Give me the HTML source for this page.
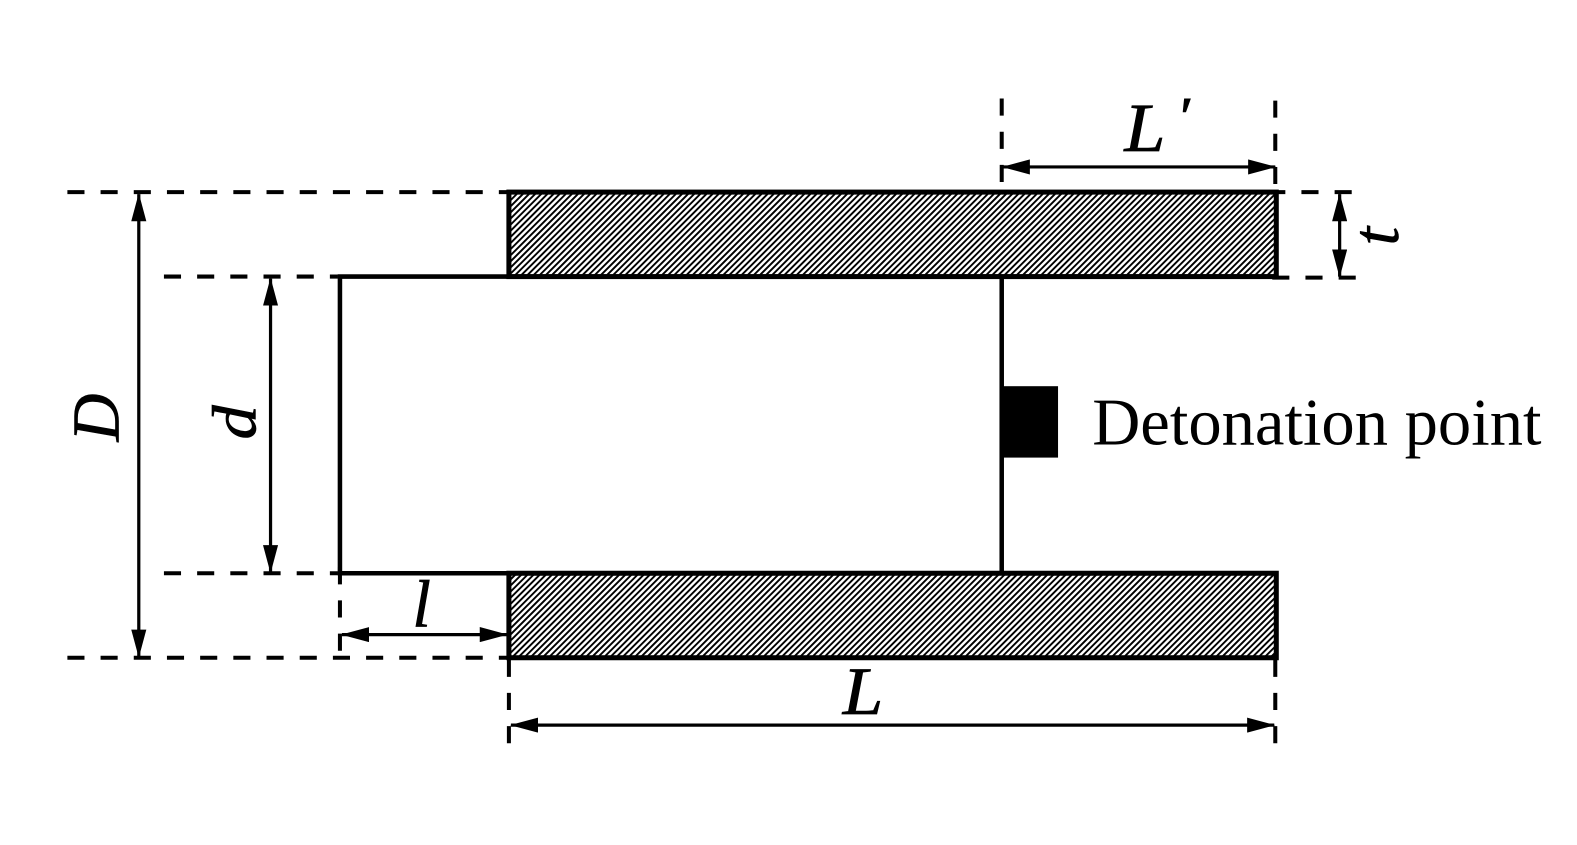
<!DOCTYPE html>
<html><head><meta charset="utf-8">
<style>
html,body{margin:0;padding:0;background:#fff;width:1577px;height:845px;overflow:hidden}
svg{display:block}
text{font-family:"Liberation Serif",serif;fill:#000}
.i{font-style:italic;stroke:#000;stroke-width:.7}
</style></head><body>
<svg width="1577" height="845" viewBox="0 0 1568 840.2" preserveAspectRatio="none" xmlns="http://www.w3.org/2000/svg">
<defs>
<pattern id="h" width="4.3" height="4.3" patternUnits="userSpaceOnUse" patternTransform="rotate(45)">
<rect width="4.3" height="4.3" fill="#fff"/>
<rect x="0" width="1.9" height="4.3" fill="#000"/>
</pattern>
<marker id="a" viewBox="0 0 28 15" refX="27" refY="7.5" markerWidth="28" markerHeight="15" markerUnits="userSpaceOnUse" orient="auto-start-reverse"><path d="M0 0L28 7.5L0 15Z" fill="#000"/></marker>
</defs>
<rect width="1568" height="841" fill="#fff"/>
<!-- hatched walls -->
<rect x="506" y="191" width="763" height="84" fill="url(#h)" stroke="#000" stroke-width="5"/>
<rect x="506" y="570" width="763" height="84" fill="url(#h)" stroke="#000" stroke-width="5"/>
<!-- charge outline -->
<path d="M506 275H338V570H506" fill="none" stroke="#000" stroke-width="4.5"/>
<path d="M996 275V570" fill="none" stroke="#000" stroke-width="4.5"/>
<rect x="996" y="384" width="56" height="71" fill="#000"/>
<!-- dashed -->
<g fill="none" stroke="#000" stroke-width="4" stroke-dasharray="17 16">
<path d="M67 191H505"/>
<path d="M67 654H505"/>
<path d="M163 275H336"/>
<path d="M163 570H336"/>
<path d="M1261 191H1345"/>
<path d="M1265 276H1348"/>
<path d="M338 564V650"/>
<path d="M996 98V182"/>
<path d="M1268 100V184"/>
<path d="M506 656V740"/>
<path d="M1268 656V740"/>
</g>
<!-- dimension arrows -->
<g fill="none" stroke="#000" stroke-width="3.2">
<path d="M138 193V653" marker-start="url(#a)" marker-end="url(#a)"/>
<path d="M269 277V569" marker-start="url(#a)" marker-end="url(#a)"/>
<path d="M340 631H504" marker-start="url(#a)" marker-end="url(#a)"/>
<path d="M508 721H1267" marker-start="url(#a)" marker-end="url(#a)"/>
<path d="M997 166H1268" marker-start="url(#a)" marker-end="url(#a)"/>
<path d="M1332 193V275" marker-start="url(#a)" marker-end="url(#a)"/>
</g>
<!-- labels -->
<text x="1086" y="442" font-size="66.2">Detonation point</text>
<text class="i" transform="translate(1118 150) scale(1.08 1)" font-size="68">L</text>
<text class="i" x="1171" y="133" font-size="52" style="stroke-width:1.5">′</text>
<text class="i" transform="translate(838 710) scale(1.08 1)" font-size="67">L</text>
<text class="i" x="410" y="623" font-size="66">l</text>
<text class="i" transform="translate(118 439) rotate(-90)" font-size="66">D</text>
<text class="i" transform="translate(254 437) rotate(-90) scale(1.1 1)" font-size="62">d</text>
<text class="i" transform="translate(1390 244) rotate(-90)" font-size="66">t</text>
</svg>
</body></html>
